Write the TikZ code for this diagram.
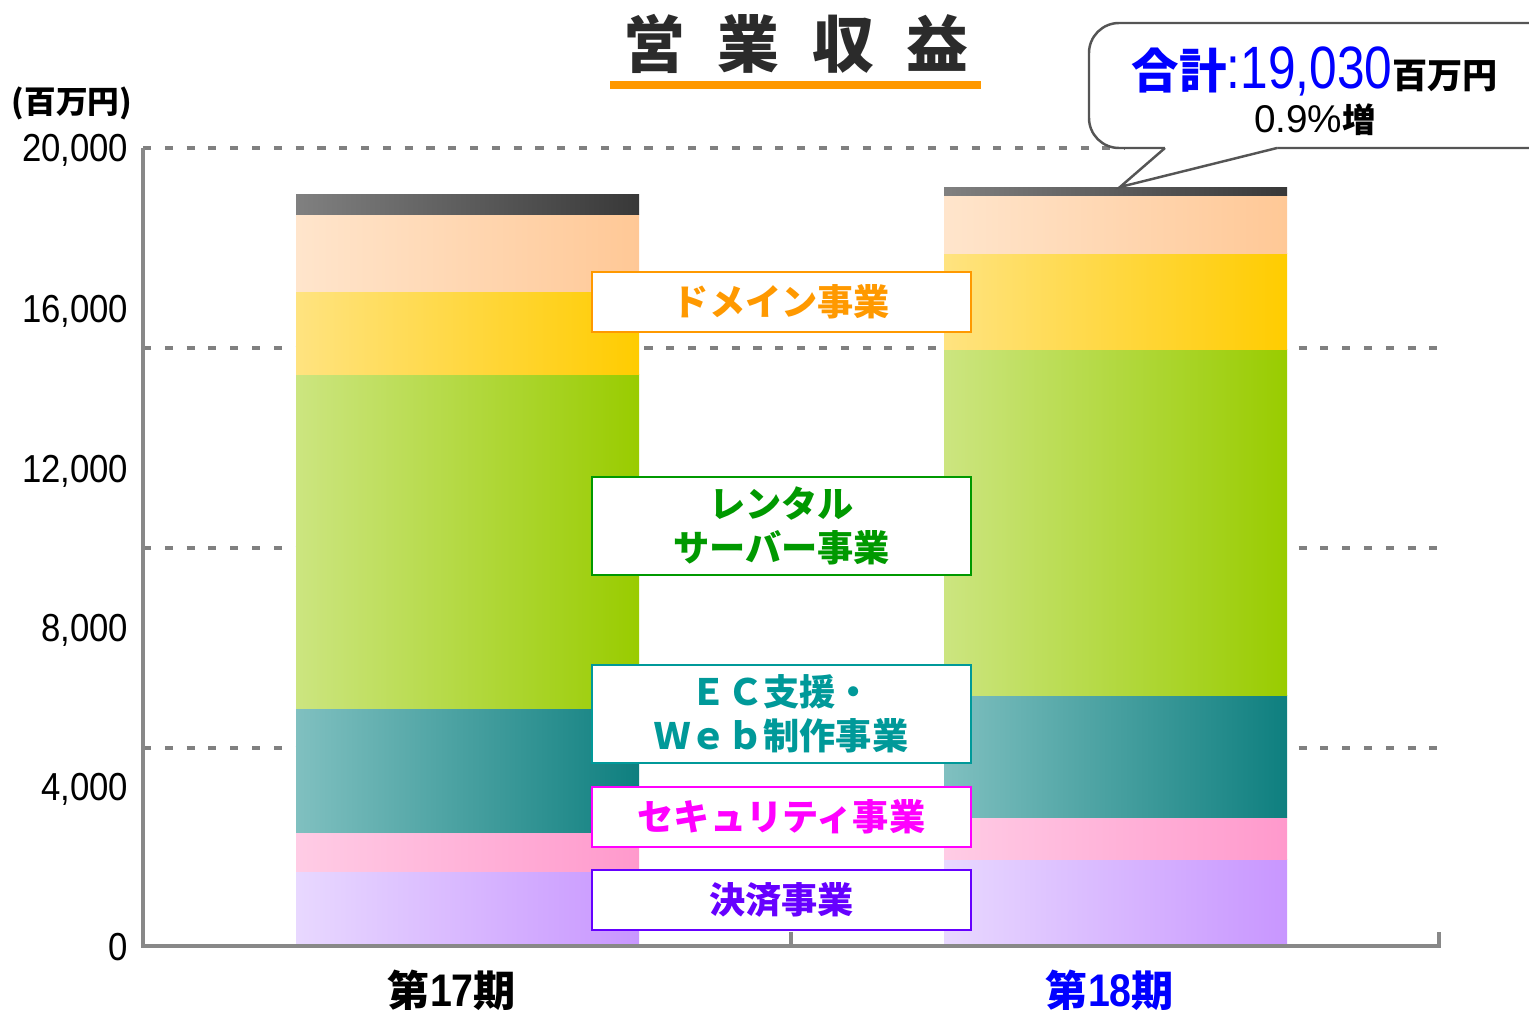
\documentclass[tikz,border=0pt]{standalone}
\usepackage{fontspec}
\setmainfont{Noto Sans CJK JP}
\newfontfamily\jpf{Noto Sans CJK JP}
\newfontfamily\numa[FakeStretch=0.89]{Liberation Sans}
\newfontfamily\numw[FakeStretch=0.83]{Liberation Sans}
\newfontfamily\numx[FakeStretch=0.86]{Liberation Sans}
\newfontfamily\numr{Liberation Sans}
\definecolor{gridgray}{HTML}{808080}
\definecolor{axisgray}{HTML}{888888}
\definecolor{callgray}{HTML}{555555}
\definecolor{titlegray}{HTML}{2B2B2B}
\definecolor{corange}{HTML}{FF9900}
\definecolor{cgreen}{HTML}{009900}
\definecolor{cteal}{HTML}{009999}
\definecolor{cmagenta}{HTML}{FF00FF}
\definecolor{cpurple}{HTML}{6600FF}
\definecolor{cblue}{HTML}{0000FF}
\definecolor{darkL}{HTML}{808080}\definecolor{darkR}{HTML}{383838}
\definecolor{peachL}{HTML}{FFE5CC}\definecolor{peachR}{HTML}{FFC896}
\definecolor{yelL}{HTML}{FFE380}\definecolor{yelR}{HTML}{FFCC00}
\definecolor{grnL}{HTML}{CCE580}\definecolor{grnR}{HTML}{99CC00}
\definecolor{tealL}{HTML}{80C0C0}\definecolor{tealR}{HTML}{0E7F7F}
\definecolor{pinkL}{HTML}{FFCCE5}\definecolor{pinkR}{HTML}{FF99CC}
\definecolor{purL}{HTML}{E8D8FF}\definecolor{purR}{HTML}{C896FF}
\begin{document}
\begin{tikzpicture}[x=0.01cm,y=-0.01cm,
  gridline/.style={draw=gridgray, line width=1pt, dash pattern=on 2.3pt off 3.9pt},
  axisline/.style={draw=axisgray, line width=0.9pt},
  catbox/.style={draw=#1, text=#1, fill=white, line width=0.7pt, minimum width=3.79cm,
    inner sep=0pt, align=center, font=\jpf\bfseries\fontsize{10.3}{12.5}\selectfont},
  ylab/.style={anchor=base east, inner sep=0pt, font=\numa\fontsize{11.1}{13}\selectfont},
  seg/.style n args={2}{left color=#1, right color=#2}]
\useasboundingbox (0,0) rectangle (1529,1012);
\clip (0,0) rectangle (1529,1012);

% grid lines
\draw[gridline] (143,148) -- (1125,148);
\foreach \yy in {348,548,748} \draw[gridline] (143,\yy) -- (1439,\yy);

% bar 17
\path[seg={purL}{purR}]   (296,946) rectangle (639,871);
\path[seg={pinkL}{pinkR}] (296,871) rectangle (639,832);
\path[seg={tealL}{tealR}] (296,832) rectangle (639,708);
\path[seg={grnL}{grnR}]   (296,708) rectangle (639,374);
\path[seg={yelL}{yelR}]   (296,374) rectangle (639,291);
\path[seg={peachL}{peachR}] (296,291) rectangle (639,214);
\path[seg={darkL}{darkR}] (296,214) rectangle (639,194);

% bar 18
\path[seg={purL}{purR}]   (944,946) rectangle (1287,859);
\path[seg={pinkL}{pinkR}] (944,859) rectangle (1287,817);
\path[seg={tealL}{tealR}] (944,817) rectangle (1287,695);
\path[seg={grnL}{grnR}]   (944,695) rectangle (1287,349);
\path[seg={yelL}{yelR}]   (944,349) rectangle (1287,253);
\path[seg={peachL}{peachR}] (944,253) rectangle (1287,195);
\path[seg={darkL}{darkR}] (944,195) rectangle (1287,187);

% axes
\draw[axisline] (143,148) -- (143,946) -- (1439,946) -- (1439,932);
\draw[axisline] (791,946) -- (791,932);

% y labels
\node[ylab] (y20) at (129,162) {20,000};
\node[ylab] (y16) at (129,322) {16,000};
\node[ylab] (y12) at (129,482) {12,000};
\node[ylab] (y8)  at (129,641) {8,000};
\node[ylab] (y4)  at (129,800) {4,000};
\node[ylab] (y0)  at (129,960) {0};
\node[inner sep=0pt, font=\jpf\bfseries\fontsize{9}{11}\selectfont] (unit) at (72,103) {(百万円)};

% title
\node[inner sep=0pt, text=titlegray, font=\jpf\bfseries\fontsize{17.6}{20}\selectfont] (title) at (796,44)
  {営\hspace{9.2pt}業\hspace{9.2pt}収\hspace{9.2pt}益};
\fill[corange] (610,81) rectangle (981,89);

% category boxes
\node[catbox=corange, minimum height=0.6cm] (domain) at (781.5,302) {ドメイン事業};
\node[catbox=cgreen, minimum height=0.98cm] (rental) at (781.5,526) {レンタル\\サーバー事業};
\node[catbox=cteal, minimum height=0.98cm] (ec) at (781.5,714) {ＥＣ支援・\\Ｗｅｂ制作事業};
\node[catbox=cmagenta, minimum height=0.6cm] (security) at (781.5,817) {セキュリティ事業};
\node[catbox=cpurple, minimum height=0.6cm] (payment) at (781.5,900) {決済事業};

% callout
\coordinate (tip) at (1120,187);
\path[draw=callgray, line width=0.7pt, fill=white, rounded corners=0.3cm] (1089,23) rectangle (1570,148);
\fill[white] (1165,144) -- (1165,149.5) -- (tip) -- (1277,149.5) -- (1277,144) -- cycle;
\draw[callgray, line width=0.7pt] (1165,148) -- (tip) -- (1277,148);
\node[anchor=base west, inner sep=0pt] (total) at (1131,88)
  {\color{cblue}\jpf\bfseries\fontsize{13.5}{16}\selectfont 合計\numw\mdseries\fontsize{17}{20}\selectfont :19,030\color{black}\jpf\bfseries\fontsize{10}{12}\selectfont 百万円};
\node[anchor=base, inner sep=0pt] (pct) at (1315,133)
  {\numr\fontsize{11}{13}\selectfont 0.9\%\jpf\bfseries\fontsize{9.5}{11}\selectfont 増};

% x labels
\node[anchor=base, inner sep=0pt] (p17) at (452,1006)
  {\jpf\bfseries\fontsize{12}{14}\selectfont 第\numx\bfseries\fontsize{13}{15}\selectfont 17\jpf\bfseries\fontsize{12}{14}\selectfont 期};
\node[anchor=base, inner sep=0pt, text=cblue] (p18) at (1110,1006)
  {\jpf\bfseries\fontsize{12}{14}\selectfont 第\numx\bfseries\fontsize{13}{15}\selectfont 18\jpf\bfseries\fontsize{12}{14}\selectfont 期};
\end{tikzpicture}
\end{document}
